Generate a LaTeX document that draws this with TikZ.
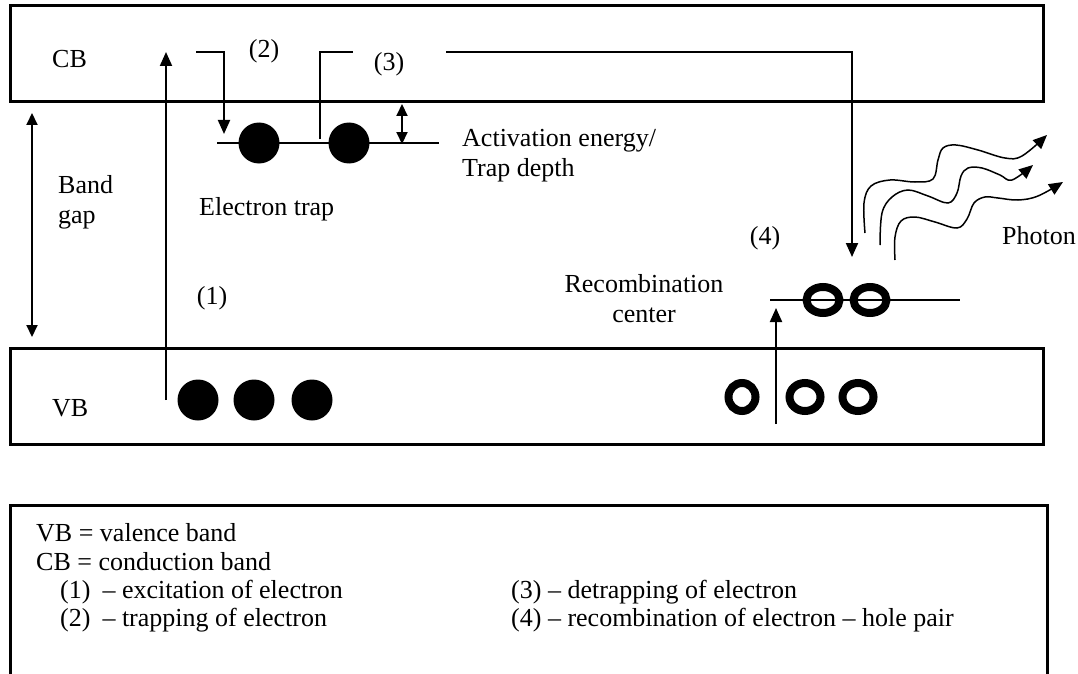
\documentclass[tikz,border=0pt]{standalone}
\usepackage{fontspec}
\setmainfont{Liberation Serif}
\usetikzlibrary{arrows.meta,shapes.geometric}
\begin{document}
\begin{tikzpicture}[x=1pt,y=-1pt,
  band/.style={line width=3pt},
  conn/.style={line width=2pt},
  arr/.style={conn,-{Triangle[length=14pt,width=12pt]}},
  darr/.style={conn,{Triangle[length=12pt,width=11pt]}-{Triangle[length=12pt,width=11pt]}},
  wavy/.style={line width=1.5pt,-{Triangle[length=14pt,width=12pt]}},
  level/.style={line width=1.6pt},
  electron/.style={circle,fill=black,minimum size=41pt,inner sep=0pt},
  hole/.style={ellipse,draw=black,line width=8pt,inner sep=0pt,outer sep=0pt},
  lbl/.style={anchor=base west,inner sep=0pt,font=\fontsize{26}{30}\selectfont},
]
\useasboundingbox (0,0) rectangle (1078,674);
\clip (0,0) rectangle (1078,674);

% bands
\draw[band] (10,6) rectangle (1043,102);
\draw[band] (10,348) rectangle (1043,444);
\node[lbl] (cb) at (52,68) {CB};
\node[lbl] (vb) at (52,416) {VB};

% band gap
\coordinate (bgT) at (32,113);
\coordinate (bgB) at (32,337);
\draw[darr] (bgT) -- (bgB);
\node[lbl,align=left] (bg) at (58,223) {Band\\gap};

% electron trap level
\coordinate (trapL) at (217,143);
\coordinate (trapR) at (439,143);
\draw[level] (trapL) -- (trapR);
\node[electron] (t1) at (259,143) {};
\node[electron] (t2) at (349,143) {};
\node[lbl] (et) at (199,215) {Electron trap};

% activation energy
\coordinate (aeT) at (402,104);
\coordinate (aeB) at (402,144);
\draw[darr] (aeT) -- (aeB);
\node[lbl,align=left] (ae) at (462,176) {Activation energy/\\Trap depth};

% VB electrons
\node[electron] (v1) at (198,400) {};
\node[electron] (v2) at (254,400) {};
\node[electron] (v3) at (312,400) {};

% (1) excitation
\coordinate (a1s) at (166,400);
\coordinate (a1e) at (166,52);
\draw[arr] (a1s) -- (a1e);
\node[lbl,anchor=base] (l1) at (212,304) {(1)};

% (2) trapping
\coordinate (a2s) at (196,52);
\coordinate (a2e) at (224,134);
\draw[arr] (a2s) -| (a2e);
\node[lbl,anchor=base] (l2) at (264,58) {(2)};

% (3) detrapping
\coordinate (d3s) at (320,139);
\coordinate (d3e) at (353,52);
\draw[conn] (d3s) |- (d3e);
\node[lbl,anchor=base] (l3) at (389,71) {(3)};
\coordinate (r1s) at (446,52);
\coordinate (r1e) at (852,257);
\draw[arr] (r1s) -| (r1e);

% recombination centre
\coordinate (rcL) at (770,300);
\coordinate (rcR) at (960,300);
\draw[level] (rcL) -- (rcR);
\node[hole,minimum width=33pt,minimum height=26pt] (h1) at (823,300) {};
\node[hole,minimum width=33pt,minimum height=26pt] (h2) at (870,300) {};
\node[lbl,anchor=base,align=center] (rc) at (644,322) {Recombination\\center};
\node[lbl,anchor=base] (l4) at (765,244) {(4)};

% VB holes
\node[hole,minimum width=27pt,minimum height=28pt] (vh1) at (742,397) {};
\node[hole,minimum width=31pt,minimum height=28pt] (vh2) at (805,397) {};
\node[hole,minimum width=31pt,minimum height=28pt] (vh3) at (858,397) {};
\coordinate (hs) at (776,424);
\coordinate (he) at (776,308);
\draw[arr] (hs) -- (he);

% photons
\draw[wavy] plot[smooth,tension=0.6] coordinates {(865,233) (864,203) (871,186) (890,180) (915,182) (933,179) (938,160) (943,148) (956,145) (978,150) (1005,158) (1022,156) (1047,135)};
\draw[wavy] plot[smooth,tension=0.6] coordinates {(880,245) (882,213) (892,197) (908,190) (928,196) (948,203) (957,193) (961,176) (968,168) (982,168) (1000,175) (1012,180) (1033,165)};
\draw[wavy] plot[smooth,tension=0.6] coordinates {(895,260) (895,237) (901,221) (915,217) (935,222) (957,228) (967,219) (974,203) (985,197) (998,198) (1018,200) (1038,196) (1063,182)};
\node[lbl] (ph) at (1002,244) {Photon};

% legend
\draw[band] (10,505) rectangle (1047,700);
\node[lbl] (k1) at (36,541) {VB = valence band};
\node[lbl] (k2) at (36,570) {CB = conduction band};
\node[lbl] (k3) at (60,598) {(1)\hspace{12pt}– excitation of electron};
\node[lbl] (k4) at (60,626) {(2)\hspace{12pt}– trapping of electron};
\node[lbl] (k5) at (511,598) {(3) – detrapping of electron};
\node[lbl] (k6) at (511,626) {(4) – recombination of electron – hole pair};
\end{tikzpicture}
\end{document}
